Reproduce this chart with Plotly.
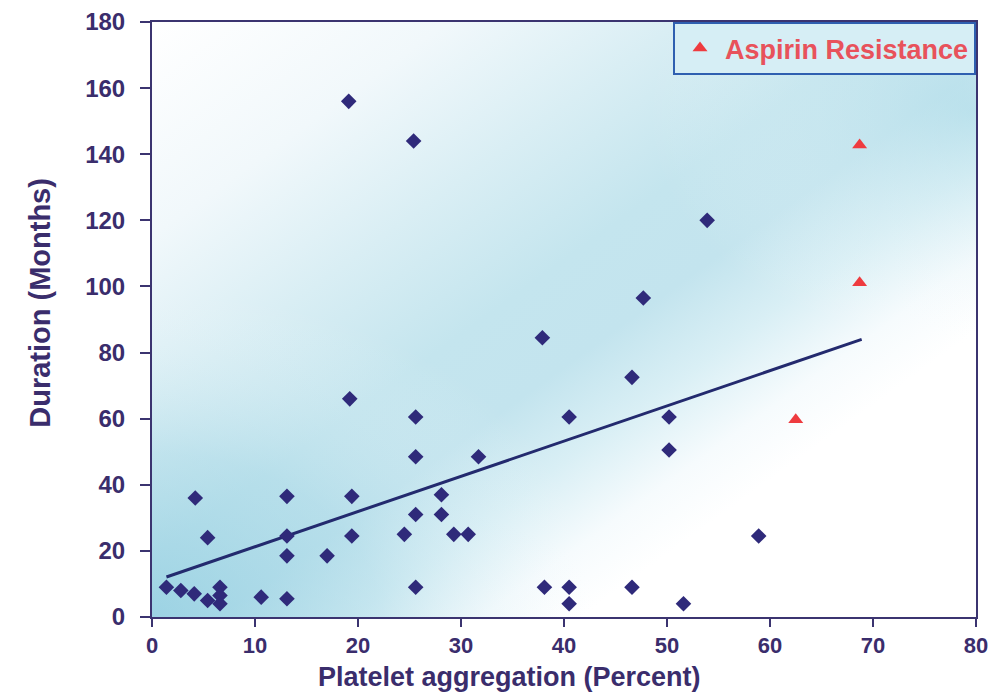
import base64
import plotly.graph_objects as go

# ---- data ----
diamond_x = [1.4, 2.8, 4.1, 5.4, 6.6, 6.6, 6.6, 4.2, 5.4, 10.6, 13.1, 13.1, 13.1, 13.1,
             17.0, 19.2, 19.4, 19.4, 19.1, 25.4, 25.6, 25.6, 25.6, 25.6, 24.5, 28.1, 28.1,
             29.3, 30.7, 31.7, 37.9, 38.1, 40.5, 40.5, 40.5, 46.6, 46.6, 47.7, 50.2, 50.2,
             51.6, 53.9, 58.9]
diamond_y = [9, 8, 7, 5, 9, 6.5, 4, 36, 24, 6, 5.5, 36.5, 24.5, 18.5,
             18.5, 66, 36.5, 24.5, 156, 144, 60.5, 48.5, 31, 9, 25, 37, 31,
             25, 25, 48.5, 84.5, 9, 60.5, 9, 4, 72.5, 9, 96.5, 60.5, 50.5,
             4, 120, 24.5]

resist_x = [68.7, 68.7, 62.5]
resist_y = [142.8, 101.1, 59.7]

trend_x = [1.4, 68.9]
trend_y = [12.1, 84.0]

x_ticks = [0, 10, 20, 30, 40, 50, 60, 70, 80]
y_ticks = [0, 20, 40, 60, 80, 100, 120, 140, 160, 180]

x_title = "Platelet aggregation (Percent)"
y_title = "Duration (Months)"

# ---- background gradient (diagonal cyan band, stronger at bottom-left) ----
svg = """<svg xmlns='http://www.w3.org/2000/svg' width='100' height='100' viewBox='0 0 100 100' preserveAspectRatio='none'>
<defs>
<linearGradient id='g' x1='0' y1='0' x2='1' y2='1'>
<stop offset='0' stop-color='#ffffff'/>
<stop offset='0.18' stop-color='#f1f8fb'/>
<stop offset='0.32' stop-color='#d9eef4'/>
<stop offset='0.45' stop-color='#c4e5ee'/>
<stop offset='0.54' stop-color='#c3e4ee'/>
<stop offset='0.62' stop-color='#d9eff5'/>
<stop offset='0.70' stop-color='#f6fbfd'/>
<stop offset='0.76' stop-color='#ffffff'/>
<stop offset='1' stop-color='#ffffff'/>
</linearGradient>
<radialGradient id='bl' cx='0' cy='100' r='55' gradientUnits='userSpaceOnUse'>
<stop offset='0' stop-color='#8fcde0' stop-opacity='0.75'/>
<stop offset='0.5' stop-color='#9fd4e4' stop-opacity='0.35'/>
<stop offset='1' stop-color='#ffffff' stop-opacity='0'/>
</radialGradient>
<radialGradient id='tr' cx='100' cy='15' r='40' gradientUnits='userSpaceOnUse'>
<stop offset='0' stop-color='#a9dae7' stop-opacity='0.5'/>
<stop offset='1' stop-color='#ffffff' stop-opacity='0'/>
</radialGradient>
</defs>
<rect x='0' y='0' width='100' height='100' fill='url(#g)'/>
<rect x='0' y='0' width='100' height='100' fill='url(#bl)'/>
<rect x='0' y='0' width='100' height='100' fill='url(#tr)'/>
</svg>"""
svg_uri = "data:image/svg+xml;base64," + base64.b64encode(svg.encode("utf-8")).decode()

axis_color = "#3b3470"
text_color = "#3a2d6c"

fig = go.Figure()

fig.add_trace(go.Scatter(
    x=trend_x, y=trend_y, mode="lines",
    line=dict(color="#232a6e", width=3),
    showlegend=False, hoverinfo="skip"))

fig.add_trace(go.Scatter(
    x=diamond_x, y=diamond_y, mode="markers",
    marker=dict(symbol="diamond", size=12, color="#2f2a7a"),
    showlegend=False, name="Patients"))

fig.add_trace(go.Scatter(
    x=resist_x, y=resist_y, mode="markers",
    marker=dict(symbol="triangle-up", size=13, color="#ee3b3f"),
    name="Aspirin Resistance"))

fig.update_layout(
    width=997, height=694,
    margin=dict(l=144, r=29, t=14, b=85),
    paper_bgcolor="white",
    plot_bgcolor="rgba(0,0,0,0)",
    font=dict(family="Liberation Sans, Arial, sans-serif", color=text_color, size=22, weight="bold"),
    images=[dict(source=svg_uri, xref="paper", yref="paper", x=0, y=1,
                 sizex=1, sizey=1, sizing="stretch", layer="below",
                 xanchor="left", yanchor="top")],
    legend=dict(x=1, y=1, xanchor="right", yanchor="top",
                bgcolor="#d6eef5", bordercolor="#2f5fb0", borderwidth=2,
                font=dict(color="#e8525b", size=27, weight="bold"),
                itemwidth=40, tracegroupgap=0),
    xaxis=dict(range=[0, 80], tickvals=x_ticks, ticktext=[str(v) for v in x_ticks],
               showgrid=False, zeroline=False, showline=True, linecolor=axis_color,
               linewidth=2, mirror=True, ticks="outside", ticklen=8, tickwidth=2,
               tickcolor=axis_color, ticklabelstandoff=0, automargin=False,
               tickfont=dict(size=22)),
    yaxis=dict(range=[0, 180], tickvals=y_ticks, ticktext=[str(v) for v in y_ticks],
               showgrid=False, zeroline=False, showline=True, linecolor=axis_color,
               linewidth=2, mirror=True, ticks="outside", ticklen=10, tickwidth=2,
               tickcolor=axis_color, ticklabelstandoff=10, automargin=False,
               tickfont=dict(size=24)),
    annotations=[
        dict(text=x_title, xref="paper", yref="paper", x=0.434, y=-0.101,
             xanchor="center", yanchor="middle", showarrow=False,
             font=dict(size=27, color=text_color, weight="bold")),
        dict(text=y_title, xref="paper", yref="paper", x=-0.136, y=0.528,
             xanchor="center", yanchor="middle", showarrow=False, textangle=-90,
             font=dict(size=29, color=text_color, weight="bold")),
    ],
)

fig.write_html("out.html")
